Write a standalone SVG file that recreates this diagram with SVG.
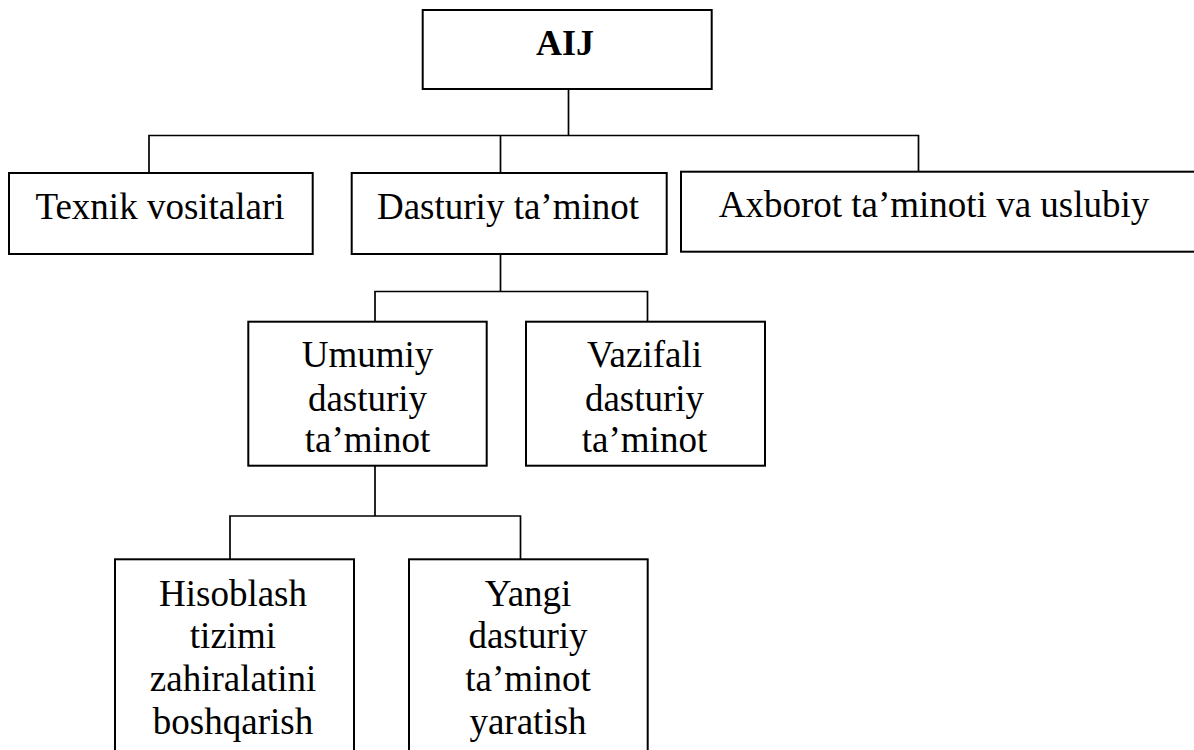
<svg xmlns="http://www.w3.org/2000/svg" width="1194" height="750" viewBox="0 0 1194 750">
  <style>
    .box { fill: #fff; stroke: #000; stroke-width: 2; }
    text { font-family: 'Liberation Serif', 'Times New Roman', 'DejaVu Serif', serif; font-size: 37px; fill: #000; text-anchor: middle; }
    .bold { font-weight: bold; font-size: 36px; }
    .conn { fill: none; stroke: #000; stroke-width: 1.7; }
  </style>
  <rect width="1194" height="750" fill="#fff"/>

  <!-- tree connectors -->
  <g id="connectors">
    <path class="conn" d="M568.5 89 V135.5 M149 173 V135.5 H918.5 V172 M500.5 135.5 V173"/>
    <path class="conn" d="M500.5 254 V291.5 M375 322 V291.5 H647.5 V322"/>
    <path class="conn" d="M375 466 V516 M230 559 V516 H520.5 V559"/>
  </g>

  <g id="node-aij" font-family="Liberation Serif, serif">
    <rect class="box" x="422.7" y="10" width="289" height="79"/>
    <text class="bold" x="565" y="55">AIJ</text>
  </g>

  <g id="node-texnik">
    <rect class="box" x="9" y="173" width="303.7" height="81"/>
    <text x="160" y="219.3">Texnik vositalari</text>
  </g>

  <g id="node-dasturiy">
    <rect class="box" x="351.7" y="173" width="315" height="81"/>
    <text x="508" y="219">Dasturiy ta’minot</text>
  </g>

  <g id="node-axborot">
    <rect class="box" x="681" y="171.7" width="525" height="80"/>
    <text x="934" y="216.7">Axborot ta’minoti va uslubiy</text>
  </g>

  <g id="node-umumiy">
    <rect class="box" x="248.3" y="321.7" width="238.4" height="144"/>
    <text x="367.5" y="367.3">Umumiy</text>
    <text x="367.5" y="410.7">dasturiy</text>
    <text x="367.5" y="452.3">ta’minot</text>
  </g>

  <g id="node-vazifali">
    <rect class="box" x="526" y="321.7" width="239" height="144"/>
    <text x="644.5" y="367.3">Vazifali</text>
    <text x="644.5" y="410.7">dasturiy</text>
    <text x="644.5" y="452.3">ta’minot</text>
  </g>

  <g id="node-hisoblash">
    <rect class="box" x="115" y="559.3" width="239" height="210"/>
    <text x="233" y="605.7">Hisoblash</text>
    <text x="233" y="648.3">tizimi</text>
    <text x="233" y="690.7">zahiralatini</text>
    <text x="233" y="734">boshqarish</text>
  </g>

  <g id="node-yangi">
    <rect class="box" x="409" y="559.3" width="238.7" height="210"/>
    <text x="528" y="605.7">Yangi</text>
    <text x="528" y="648.3">dasturiy</text>
    <text x="528" y="690.7">ta’minot</text>
    <text x="528" y="734">yaratish</text>
  </g>
</svg>
